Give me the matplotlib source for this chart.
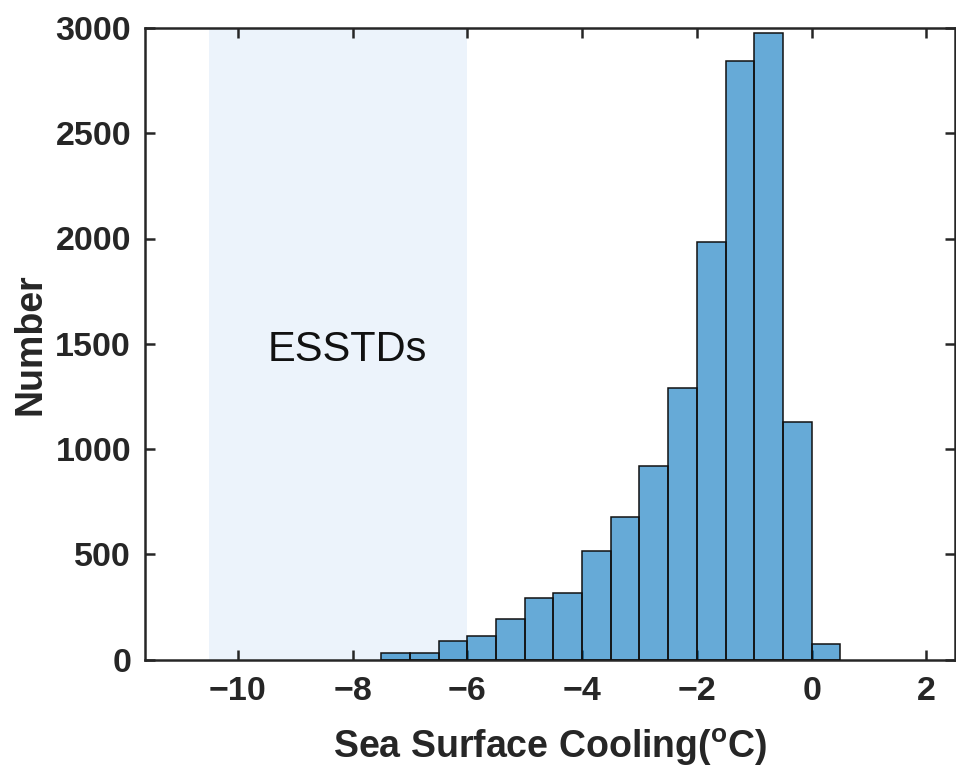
import matplotlib
matplotlib.use("Agg")
import matplotlib.pyplot as plt
import numpy as np

# histogram counts, bins of 0.5 degC
bin_edges = [-7.5, -7.0, -6.5, -6.0, -5.5, -5.0, -4.5, -4.0, -3.5, -3.0,
             -2.5, -2.0, -1.5, -1.0, -0.5, 0.0, 0.5]
counts = [30, 30, 89, 112, 193, 291, 317, 516, 677, 919,
          1290, 1983, 2845, 2975, 1128, 75]
shade_range = [-10.5, -6.0]
label_text = "ESSTDs"
xticks = [-10, -8, -6, -4, -2, 0, 2]
yticks = [0, 500, 1000, 1500, 2000, 2500, 3000]

plt.rcParams["font.family"] = ["Liberation Sans", "DejaVu Sans"]
plt.rcParams["mathtext.fontset"] = "custom"
plt.rcParams["mathtext.rm"] = "Liberation Sans"
plt.rcParams["mathtext.bf"] = "Liberation Sans:bold"

W, H = 956, 772
fig = plt.figure(figsize=(W / 100, H / 100), dpi=100)
ax = fig.add_axes([145 / W, 1 - 659.5 / H, (955 - 145) / W, (659.5 - 28) / H])

ax.axvspan(shade_range[0], shade_range[1], color="#ecf3fb", lw=0, zorder=0)

widths = np.diff(bin_edges)
ax.bar(bin_edges[:-1], counts, width=widths, align="edge",
       color="#0072BD", alpha=0.6, edgecolor="none", zorder=2)
ax.bar(bin_edges[:-1], counts, width=widths, align="edge",
       facecolor="none", edgecolor="#111111", linewidth=1.1, zorder=3)

ax.text(-8.1, 1470, label_text, fontsize=30, ha="center", va="center",
        color="#111111")

ax.set_xlim(-11.62, 2.5)
ax.set_ylim(0, 3000)
ax.set_xticks(xticks)
ax.set_yticks(yticks)

dark = "#262626"
for s in ax.spines.values():
    s.set_linewidth(1.8)
    s.set_color(dark)
ax.tick_params(direction="in", length=7, width=1.8, color=dark,
               top=True, right=True, labelsize=24.5, labelcolor=dark)
ax.tick_params(axis="x", pad=12)
ax.tick_params(axis="y", pad=10)
for lab in ax.get_xticklabels() + ax.get_yticklabels():
    lab.set_fontweight("bold")

ax.set_xlabel(r"Sea Surface Cooling($\mathbf{^o}$C)", fontsize=27,
              fontweight="bold", color=dark, labelpad=14)
ax.set_ylabel("Number", fontsize=27, fontweight="bold", color=dark,
              labelpad=5)

fig.savefig("out.png", dpi=100)
